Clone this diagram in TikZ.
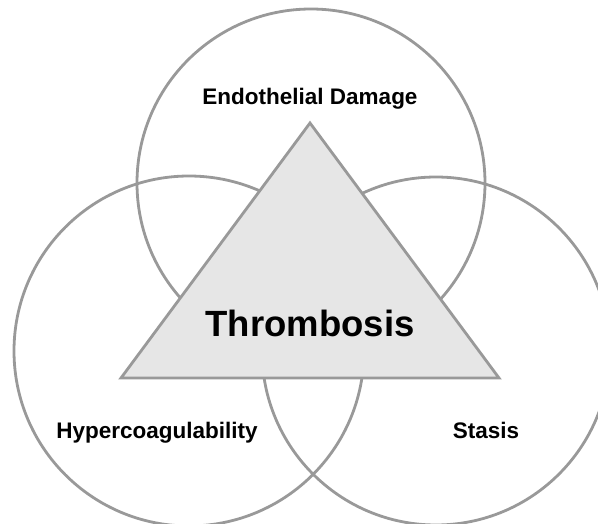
\documentclass[tikz,border=0pt]{standalone}
\usepackage{fontspec}
\setmainfont{Liberation Sans}
\usepackage{tikz}
\usepackage{xcolor}
\definecolor{ringgray}{HTML}{999999}
\definecolor{trifill}{HTML}{E6E6E6}

\begin{document}
\begin{tikzpicture}[x=1pt,y=-1pt,
    ring/.style={draw=ringgray,line width=2.8pt},
    label/.style={font=\fontsize{22.5}{26}\selectfont\bfseries,anchor=base}]
  \useasboundingbox (0,0) rectangle (598,524);
  \clip (0,0) rectangle (598,524);

  % the three factors
  \draw[ring] (311,183) circle (174);
  \draw[ring] (189,351) circle (175);
  \draw[ring] (436,351) circle (174);

  % triangle in the middle
  \draw[ring,fill=trifill,line join=miter] (310,123) -- (499,378) -- (121,378) -- cycle;

  % labels
  \node[label] (endo) at (310,105) {Endothelial Damage};
  \node[label] (hyper) at (157,438) {Hypercoagulability};
  \node[label] (stasis) at (486,438) {Stasis};
  \node[label,font=\fontsize{36.5}{42}\selectfont\bfseries] (thromb) at (310,337) {Thrombosis};

\end{tikzpicture}
\end{document}
